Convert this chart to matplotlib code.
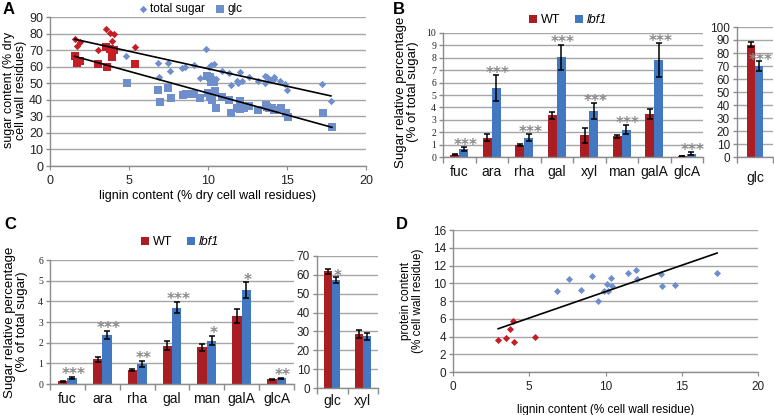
import numpy as np
import matplotlib
matplotlib.use("Agg")
import matplotlib.pyplot as plt
from matplotlib.ticker import FixedLocator

plt.rcParams['font.family'] = ['Liberation Sans', 'DejaVu Sans']

# ---------------- DATA ----------------
# Panel A: lignin vs sugar content
A_red_lignin = [1.56, 1.69, 1.90, 3.02, 3.53, 3.78, 4.03, 3.95, 3.59, 5.41]
A_red_total = [76.9, 72.6, 74.6, 69.8, 82.7, 80.3, 79.9, 75.6, 72.2, 71.8]
A_red_glc = [66.7, 62.1, 63.3, 61.6, 72.0, 70.6, 70.2, 66.1, 59.7, 61.7]
A_blue_lignin_ts = [4.82, 6.86, 6.93, 7.46, 7.60, 8.34, 8.55, 9.14, 9.50, 9.90, 10.05, 10.16,
                    10.39, 10.24, 10.50, 10.88, 11.30, 11.45, 11.83, 12.00, 11.89, 12.16,
                    12.57, 13.18, 13.58, 13.62, 13.73, 13.94, 14.15, 14.20, 14.53, 14.89,
                    15.00, 17.20, 17.78]
A_blue_total = [66.5, 62.1, 53.6, 62.1, 57.4, 59.1, 59.5, 61.1, 53.2, 70.6, 59.7, 61.1,
                61.5, 54.0, 52.4, 57.6, 56.0, 48.9, 51.4, 57.0, 50.0, 51.4,
                53.6, 51.2, 50.0, 54.6, 54.0, 52.0, 52.8, 54.0, 51.4, 49.6,
                45.9, 49.6, 39.4]
A_blue_lignin_glc = [4.86, 6.86, 6.97, 7.50, 7.65, 8.40, 8.60, 9.14, 9.50, 9.93, 10.10, 10.18,
                     10.39, 10.03, 10.14, 10.27, 10.43, 10.52, 10.88, 11.30, 11.47, 11.83,
                     12.04, 12.04, 12.29, 12.57, 13.18, 13.66, 13.73, 13.86, 14.04, 14.15,
                     14.64, 14.95, 15.04, 17.27, 17.85]
A_blue_glc = [50.4, 45.9, 38.6, 46.9, 41.3, 43.1, 43.3, 43.5, 41.3, 54.4, 54.0, 51.0,
              50.6, 43.9, 41.9, 39.8, 45.1, 34.8, 41.9, 39.8, 32.2, 35.2,
              39.2, 34.2, 34.8, 36.2, 33.8, 36.8, 35.8, 35.2, 35.2, 33.8,
              34.8, 32.2, 29.7, 32.2, 23.3]

# Panel B
B_cats = ['fuc', 'ara', 'rha', 'gal', 'xyl', 'man', 'galA', 'glcA']
B_wt = [0.17, 1.57, 0.95, 3.35, 1.76, 1.68, 3.50, 0.07]
B_wt_err = [0.04, 0.28, 0.08, 0.30, 0.60, 0.12, 0.40, 0.02]
B_lbf = [0.63, 5.57, 1.57, 8.03, 3.70, 2.20, 7.84, 0.27]
B_lbf_err = [0.18, 1.05, 0.28, 1.04, 0.66, 0.36, 1.35, 0.10]
B_sig = ['***'] * 8
B2_cats = ['glc']
B2_wt = [86.4]
B2_wt_err = [1.7]
B2_lbf = [70.0]
B2_lbf_err = [4.0]
B2_sig = ['***']

# Panel C
C_cats = ['fuc', 'ara', 'rha', 'gal', 'man', 'galA', 'glcA']
C_wt = [0.13, 1.20, 0.68, 1.85, 1.77, 3.29, 0.23]
C_wt_err = [0.03, 0.12, 0.05, 0.22, 0.15, 0.35, 0.02]
C_lbf = [0.28, 2.38, 0.97, 3.70, 2.10, 4.54, 0.27]
C_lbf_err = [0.06, 0.20, 0.14, 0.27, 0.23, 0.39, 0.04]
C_sig = ['***', '***', '**', '***', '*', '*', '**']
C2_cats = ['glc', 'xyl']
C2_wt = [61.8, 28.4]
C2_wt_err = [1.4, 2.1]
C2_lbf = [57.5, 27.4]
C2_lbf_err = [1.6, 1.9]
C2_sig = ['*', '']

# Panel D
D_red_lignin = [2.96, 3.49, 3.75, 3.93, 3.97, 5.35]
D_red_protein = [3.55, 3.88, 4.87, 5.80, 3.35, 3.95]
D_blue_lignin = [6.84, 7.61, 8.38, 9.14, 9.52, 9.89, 10.09, 10.15, 10.33, 10.42,
                 11.47, 12.02, 12.06, 13.64, 13.73, 14.58, 17.32]
D_blue_protein = [9.18, 10.45, 9.29, 10.86, 8.05, 9.18, 9.93, 9.18, 10.56, 9.66,
                  11.16, 11.50, 10.49, 11.09, 9.74, 9.85, 11.20]

# ---------------- STYLE ----------------
W, H = 774, 415
fig = plt.figure(figsize=(W / 100, H / 100), dpi=100)

RED_BAR = '#A91E23'
BLUE_BAR = '#4277C2'
RED_PT = '#C41E26'
BLUE_PT = '#6E8FCC'
GRID = '#A6A6A6'
AXC = '#8C8C8C'
STAR = '#8A8A8A'


def ax_px(x0, y0, x1, y1):
    return fig.add_axes([x0 / W, 1 - y1 / H, (x1 - x0) / W, (y1 - y0) / H])


def style_axes(ax, serif_ticks=False, tsize=8.5):
    for s in ['top', 'right']:
        ax.spines[s].set_visible(False)
    for s in ['left', 'bottom']:
        ax.spines[s].set_color(AXC)
        ax.spines[s].set_linewidth(1.0)
    ax.yaxis.grid(True, color=GRID, lw=1.0)
    ax.set_axisbelow(True)
    ax.tick_params(axis='y', colors=AXC, length=3, width=1, labelcolor='#222222',
                   labelsize=tsize, pad=2)
    if serif_ticks:
        for lab in ax.get_yticklabels():
            lab.set_family(['Liberation Serif', 'DejaVu Serif'])


def star_text(ax, x, y, s):
    if s:
        ax.annotate(s, xy=(x, y), xytext=(0, -6.5), textcoords='offset points',
                    ha='center', va='baseline', fontsize=11, fontweight='bold',
                    color=STAR, family='DejaVu Sans', annotation_clip=False)


def bar_panel(ax, cats, wt, wte, lbf, lbfe, sig, bw, ylim, yticks, serif, tsize, star_gap, xpad):
    x = np.arange(len(cats))
    ax.bar(x - bw / 2, wt, bw, color=RED_BAR, zorder=2)
    ax.bar(x + bw / 2, lbf, bw, color=BLUE_BAR, zorder=2)
    ax.errorbar(x - bw / 2, wt, yerr=wte, fmt='none', ecolor='black', elinewidth=1.1,
                capsize=2, capthick=1.1, zorder=3)
    ax.errorbar(x + bw / 2, lbf, yerr=lbfe, fmt='none', ecolor='black', elinewidth=1.1,
                capsize=2, capthick=1.1, zorder=3)
    for i in range(len(cats)):
        star_text(ax, x[i] + bw / 2 + 0.05, lbf[i] + lbfe[i] + star_gap, sig[i])
    ax.set_xlim(-0.5, len(cats) - 0.5)
    ax.set_ylim(*ylim)
    ax.set_yticks(yticks)
    ax.set_xticks(x)
    ax.set_xticklabels(cats, fontsize=10)
    ax.xaxis.set_minor_locator(FixedLocator(np.arange(len(cats) + 1) - 0.5))
    style_axes(ax, serif_ticks=serif, tsize=tsize)
    ax.tick_params(axis='x', which='major', length=0, pad=xpad, labelcolor='#111111')
    ax.tick_params(axis='x', which='minor', length=4, color=AXC, width=1)


# ---------------- PANEL A ----------------
axA = ax_px(50, 17, 366, 166)
lig_ts = np.array(A_red_lignin + A_blue_lignin_ts)
tot = np.array(A_red_total + A_blue_total)
lig_g = np.array(A_red_lignin + A_blue_lignin_glc)
glc = np.array(A_red_glc + A_blue_glc)
hd = axA.scatter(A_blue_lignin_ts, A_blue_total, marker='D', s=14, color=BLUE_PT, lw=0, zorder=3)
hs = axA.scatter(A_blue_lignin_glc, A_blue_glc, marker='s', s=26, color=BLUE_PT, lw=0, zorder=3)
axA.scatter(A_red_lignin, A_red_total, marker='D', s=14, color=RED_PT, lw=0, zorder=3)
axA.scatter(A_red_lignin, A_red_glc, marker='s', s=26, color=RED_PT, lw=0, zorder=3)
for xs, ys in [(lig_ts, tot), (lig_g, glc)]:
    p = np.polyfit(xs, ys, 1)
    xx = np.array([xs.min(), xs.max()])
    axA.plot(xx, np.polyval(p, xx), color='black', lw=1.2, zorder=4)
axA.set_xlim(0, 20)
axA.set_ylim(0, 90)
axA.set_yticks(np.arange(0, 91, 10))
axA.set_xticks([0, 5, 10, 15, 20])
style_axes(axA, tsize=9)
axA.tick_params(axis='x', labelsize=9, colors=AXC, labelcolor='#222222', length=3)
axA.set_xlabel('lignin content (% dry cell wall residues)', fontsize=9, labelpad=2)
fig.text(15 / W, 1 - 90 / H, 'sugar content (% dry\ncell wall residues)', rotation=90,
         ha='center', va='center', fontsize=9, linespacing=1.0)
axA.legend([hd, hs], ['total sugar', 'glc'], loc='center', bbox_to_anchor=(190 / W, 1 - 9 / H),
           bbox_transform=fig.transFigure, ncol=2, frameon=False, fontsize=8.5,
           handlelength=0.8, handletextpad=0.2, columnspacing=0.9, borderpad=0)

# ---------------- PANEL B ----------------
axB = ax_px(443, 33, 703, 157)
bar_panel(axB, B_cats, B_wt, B_wt_err, B_lbf, B_lbf_err, B_sig, 0.28, (0, 10),
          np.arange(0, 11, 1), True, 7, 0.5, 6)
axB2 = ax_px(737, 27, 773, 157)
bar_panel(axB2, B2_cats, B2_wt, B2_wt_err, B2_lbf, B2_lbf_err, B2_sig, 0.23, (0, 100),
          np.arange(0, 101, 10), False, 8.5, 3.5, 10)
fig.text(407 / W, 1 - 92 / H, 'Sugar relative percentage\n(% of total sugar)', rotation=90,
         ha='center', va='center', fontsize=9.5, linespacing=1.05)
hw = axB.bar([0], [0], color=RED_BAR)
hl = axB.bar([0], [0], color=BLUE_BAR)
legB = axB.legend([hw, hl], ['WT', 'lbf1'], loc='center', bbox_to_anchor=(568 / W, 1 - 20 / H),
                  bbox_transform=fig.transFigure, ncol=2, frameon=False, fontsize=9,
                  handlelength=0.6, handleheight=0.6, handletextpad=0.3, columnspacing=1.2,
                  borderpad=0)
legB.get_texts()[1].set_style('italic')

# ---------------- PANEL C ----------------
axC = ax_px(50, 260, 294, 384)
bar_panel(axC, C_cats, C_wt, C_wt_err, C_lbf, C_lbf_err, C_sig, 0.27, (0, 6),
          np.arange(0, 7, 1), True, 7, 0.32, 6)
axC2 = ax_px(317, 256, 378, 388)
bar_panel(axC2, C2_cats, C2_wt, C2_wt_err, C2_lbf, C2_lbf_err, C2_sig, 0.27, (0, 70),
          np.arange(0, 71, 10), False, 8.5, 2.5, 4)
fig.text(16 / W, 1 - 322 / H, 'Sugar relative percentage\n(% of total sugar)', rotation=90,
         ha='center', va='center', fontsize=9.5, linespacing=1.05)
hw = axC.bar([0], [0], color=RED_BAR)
hl = axC.bar([0], [0], color=BLUE_BAR)
legC = axC.legend([hw, hl], ['WT', 'lbf1'], loc='center', bbox_to_anchor=(180 / W, 1 - 242 / H),
                  bbox_transform=fig.transFigure, ncol=2, frameon=False, fontsize=9,
                  handlelength=0.6, handleheight=0.6, handletextpad=0.3, columnspacing=1.2,
                  borderpad=0)
legC.get_texts()[1].set_style('italic')

# ---------------- PANEL D ----------------
axD = ax_px(453, 230, 758, 372)
axD.scatter(D_blue_lignin, D_blue_protein, marker='D', s=13, color=BLUE_PT, lw=0, zorder=3)
axD.scatter(D_red_lignin, D_red_protein, marker='D', s=13, color=RED_PT, lw=0, zorder=3)
dx = np.array(D_red_lignin + D_blue_lignin)
dy = np.array(D_red_protein + D_blue_protein)
p = np.polyfit(dx, dy, 1)
xx = np.array([dx.min(), dx.max()])
axD.plot(xx, np.polyval(p, xx), color='black', lw=1.2, zorder=4)
axD.set_xlim(0, 20)
axD.set_ylim(0, 16)
axD.set_yticks(np.arange(0, 17, 2))
axD.set_xticks([0, 5, 10, 15, 20])
style_axes(axD, tsize=8.5)
axD.tick_params(axis='x', labelsize=8.5, colors=AXC, labelcolor='#222222', length=3)
axD.set_xlabel('lignin content (% cell wall residue)', fontsize=8.5, labelpad=8)
axD.set_ylabel('protein content\n(% cell wall residue)', fontsize=8.5, labelpad=6, linespacing=1.0)

# Panel letters
for txt, xp, yp in [('A', 3, 10), ('B', 393, 10), ('C', 4, 224), ('D', 396, 224)]:
    fig.text(xp / W, 1 - yp / H, txt, fontsize=12, fontweight='bold', ha='left', va='center')

fig.savefig('out.png', dpi=100)
